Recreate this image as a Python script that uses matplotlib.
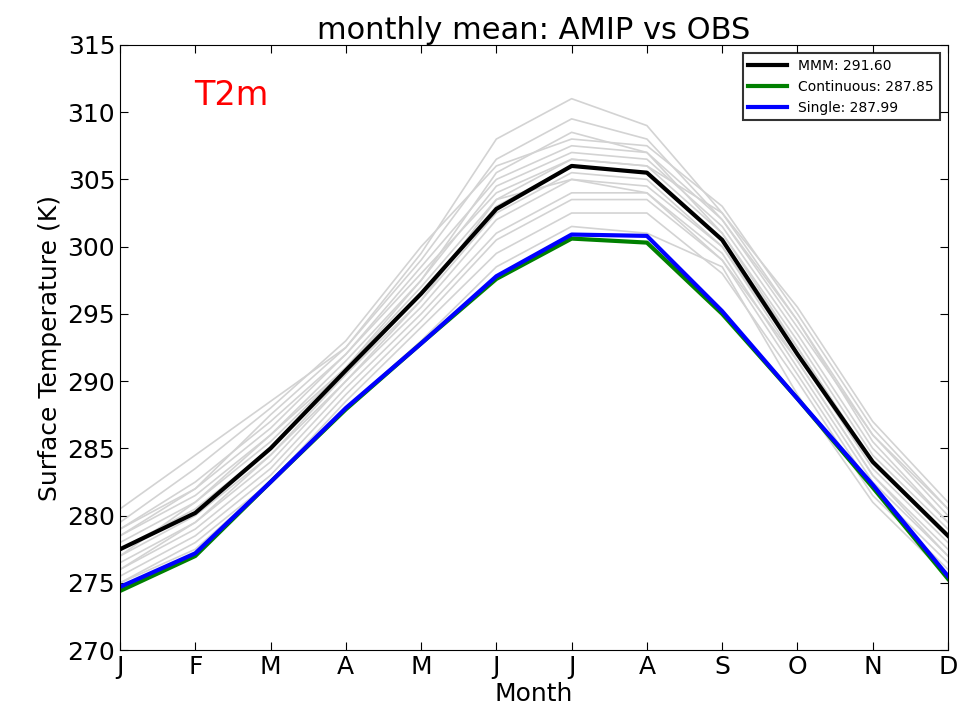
import matplotlib
matplotlib.use('Agg')
import matplotlib.pyplot as plt

months = ['J', 'F', 'M', 'A', 'M', 'J', 'J', 'A', 'S', 'O', 'N', 'D']

mmm = [277.5, 280.2, 285.0, 290.8, 296.5, 302.8, 306.0, 305.5, 300.5, 292.0, 284.0, 278.5]
continuous = [274.4, 277.0, 282.5, 287.9, 292.8, 297.6, 300.6, 300.3, 295.0, 288.7, 282.1, 275.3]
single = [274.7, 277.2, 282.5, 288.0, 292.8, 297.8, 300.9, 300.8, 295.2, 288.7, 282.3, 275.5]

# individual AMIP models (grey)
models = [
    [280.5, 284.5, 288.5, 292.5, 299.5, 308.0, 311.0, 309.0, 302.5, 295.5, 287.0, 281.0],
    [279.5, 283.5, 288.0, 293.0, 300.0, 306.0, 308.0, 307.5, 303.0, 295.0, 286.5, 280.5],
    [279.0, 282.5, 287.0, 292.0, 298.5, 305.0, 307.5, 307.0, 302.0, 294.0, 286.0, 280.0],
    [278.5, 281.5, 286.0, 291.5, 297.5, 304.5, 307.0, 306.5, 301.5, 293.5, 285.0, 279.5],
    [278.0, 281.0, 285.5, 291.0, 297.0, 303.5, 306.5, 306.0, 301.0, 293.0, 284.5, 279.0],
    [277.5, 280.5, 285.0, 290.5, 296.5, 303.0, 306.0, 305.5, 300.5, 292.5, 284.0, 278.5],
    [277.0, 280.0, 284.5, 290.5, 296.0, 302.5, 305.5, 305.0, 300.0, 292.0, 283.5, 278.0],
    [276.5, 279.5, 284.0, 290.0, 295.5, 302.0, 305.0, 304.5, 300.0, 291.5, 283.0, 277.5],
    [276.0, 279.0, 283.5, 289.5, 295.0, 301.0, 304.0, 304.0, 299.5, 291.0, 282.5, 277.0],
    [275.5, 278.5, 283.0, 289.0, 294.5, 300.5, 303.5, 303.5, 299.0, 290.5, 282.0, 276.5],
    [275.0, 278.0, 282.5, 288.5, 294.0, 299.5, 302.5, 302.5, 298.0, 290.0, 281.5, 276.0],
    [275.0, 277.5, 282.5, 288.0, 293.0, 298.5, 301.5, 301.0, 298.5, 289.0, 281.0, 275.5],
    [278.5, 282.0, 286.5, 292.0, 298.0, 304.0, 306.5, 306.0, 302.5, 294.5, 285.5, 279.5],
    [277.0, 281.0, 286.0, 291.0, 297.5, 305.5, 308.5, 307.0, 301.0, 292.5, 284.0, 278.5],
    [276.0, 279.5, 284.5, 290.0, 296.0, 303.5, 305.0, 304.0, 299.0, 291.5, 283.0, 277.0],
    [279.0, 282.0, 287.5, 292.5, 299.0, 306.5, 309.5, 308.0, 302.0, 294.5, 286.0, 280.5],
]

fig = plt.figure(figsize=(9.6, 7.24), dpi=100)
ax = fig.add_axes([0.125, 0.102, 0.8625, 0.836])
x = list(range(12))

for m in models:
    ax.plot(x, m, color='#d3d3d3', linewidth=1.2)
ax.plot(x, mmm, color='black', linewidth=3, label='MMM: 291.60')
ax.plot(x, continuous, color='green', linewidth=3, label='Continuous: 287.85')
ax.plot(x, single, color='blue', linewidth=3, label='Single: 287.99')

ax.set_xlim(0, 11)
ax.set_ylim(270, 315)
ax.set_xticks(x)
ax.set_xticklabels(months, fontsize=18)
ax.set_yticks(range(270, 316, 5))
ax.tick_params(axis='y', labelsize=18)
ax.tick_params(direction='in', length=6, top=True, right=True)
ax.set_xlabel('Month', fontsize=18, labelpad=2)
ax.set_ylabel('Surface Temperature (K)', fontsize=18)
ax.set_title('monthly mean: AMIP vs OBS', fontsize=22, pad=4)
ax.text(0.09, 0.9, 'T2m', color='red', fontsize=24, transform=ax.transAxes)
leg = ax.legend(loc='upper right', fontsize=10, frameon=True, fancybox=False,
                handlelength=2.8, borderaxespad=0.6)
leg.get_frame().set_edgecolor('black')
leg.get_frame().set_linewidth(1.5)

fig.savefig('out.png', dpi=100)
